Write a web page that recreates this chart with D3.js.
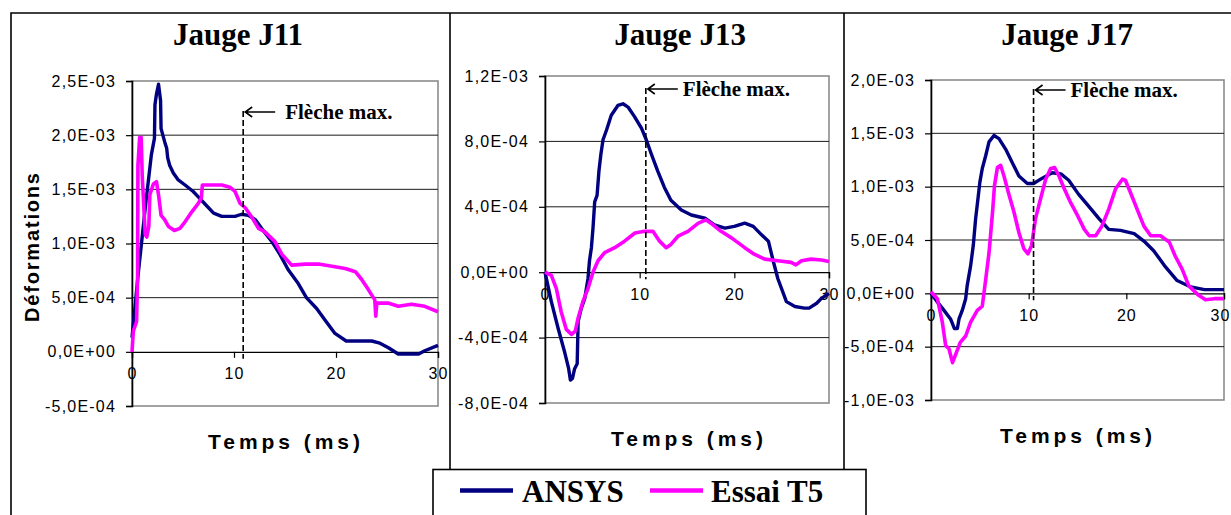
<!DOCTYPE html>
<html><head><meta charset="utf-8">
<script src="https://cdn.jsdelivr.net/npm/d3@7"></script>
<style>body{margin:0;background:#fff}svg{display:block}</style>
</head><body>
<svg id="c" width="1231" height="515"></svg>
<script>
// ---- data (strain values in units of 1e-3, time in ms) ----
const seriesNames = ["ANSYS", "Essai T5"];
const panelTitles = ["Jauge J11", "Jauge J13", "Jauge J17"];
const xTicks = [0, 10, 20, 30];
const j11YTicks = [-5e-4, 0, 5e-4, 1e-3, 1.5e-3, 2e-3, 2.5e-3];
const j13YTicks = [-8e-4, -4e-4, 0, 4e-4, 8e-4, 1.2e-3];
const j17YTicks = [-1e-3, -5e-4, 0, 5e-4, 1e-3, 1.5e-3, 2e-3];
const flecheMax = [10.9, 10.65, 10.5];

const j11Ansys = [[0,0.13],[0.6,0.71],[1.3,1.33],[1.9,1.82],[2.2,1.97],[2.25,2.28],[2.4,2.38],[2.6,2.47],[2.8,2.32],[2.85,2.06],[3.2,1.94],[3.4,1.88],[3.5,1.79],[3.7,1.72],[4.05,1.65],[4.5,1.59],[5.2,1.54],[6.0,1.48],[6.5,1.43],[7.2,1.36],[8.0,1.28],[8.8,1.25],[10.1,1.25],[10.75,1.27],[11.4,1.26],[12.1,1.22],[12.7,1.14],[13.7,1.02],[14.5,0.90],[15.3,0.76],[16.3,0.63],[17.1,0.50],[18.1,0.40],[19.1,0.27],[19.9,0.17],[21.0,0.10],[22.2,0.10],[23.5,0.10],[24.3,0.08],[25.1,0.04],[26.1,-0.02],[27.1,-0.02],[28.1,-0.02],[28.7,0.01],[30,0.06]];
const j11Essai = [[0,0],[0.13,0.19],[0.45,0.28],[0.55,0.71],[0.58,1.72],[0.75,1.98],[0.9,1.98],[1.0,1.63],[1.3,1.08],[1.45,1.06],[1.65,1.16],[1.75,1.45],[2.1,1.55],[2.4,1.57],[2.6,1.45],[2.85,1.26],[3.2,1.22],[3.55,1.16],[4.15,1.12],[4.7,1.14],[5.2,1.20],[5.85,1.29],[6.5,1.37],[6.8,1.42],[6.9,1.54],[7.8,1.54],[8.8,1.54],[9.6,1.52],[10.1,1.48],[10.6,1.37],[11.1,1.33],[11.7,1.25],[12.4,1.14],[13.0,1.11],[14.0,1.02],[14.7,0.90],[15.65,0.80],[17.0,0.81],[18.3,0.81],[19.6,0.79],[20.9,0.77],[21.9,0.74],[22.5,0.67],[23.2,0.57],[23.8,0.48],[23.9,0.33],[24.0,0.45],[25.1,0.45],[26.1,0.42],[27.4,0.44],[28.7,0.42],[30,0.37]];

const j13Ansys = [[0,0],[0.67,-0.18],[1.37,-0.34],[2.08,-0.49],[2.5,-0.59],[2.68,-0.66],[2.9,-0.65],[3.13,-0.59],[3.4,-0.56],[3.5,-0.30],[3.84,-0.22],[4.2,-0.16],[4.54,-0.04],[4.7,0.07],[4.9,0.15],[5.07,0.27],[5.25,0.43],[5.5,0.47],[5.7,0.62],[5.9,0.72],[6.13,0.81],[6.5,0.87],[7.0,0.96],[7.7,1.02],[8.24,1.03],[8.77,1.01],[9.47,0.95],[10.2,0.88],[10.7,0.81],[11.25,0.72],[11.9,0.62],[12.6,0.52],[13.3,0.44],[14.4,0.38],[15.45,0.35],[16.9,0.33],[17.9,0.29],[19.0,0.27],[20.0,0.28],[21.1,0.30],[22.0,0.28],[22.85,0.23],[23.6,0.19],[24.1,0.07],[24.6,-0.04],[25.5,-0.18],[26.4,-0.21],[27.4,-0.22],[27.9,-0.22],[28.7,-0.19],[29.2,-0.16],[30,-0.13]];
const j13Essai = [[0,0],[0.67,-0.02],[1.2,-0.10],[1.7,-0.24],[2.25,-0.35],[2.8,-0.38],[3.2,-0.36],[3.5,-0.28],[4.0,-0.18],[4.54,-0.10],[5.07,0],[5.6,0.07],[6.3,0.12],[7.36,0.15],[8.4,0.19],[9.5,0.24],[10.5,0.25],[11.4,0.25],[12.1,0.19],[12.8,0.15],[13.3,0.17],[14.05,0.22],[15.1,0.25],[16.2,0.30],[17.0,0.32],[17.75,0.29],[18.6,0.25],[19.7,0.21],[21.1,0.15],[22.1,0.11],[23.2,0.08],[24.6,0.07],[26.0,0.06],[26.5,0.045],[27.1,0.07],[28.1,0.08],[29.2,0.075],[30,0.065]];

const j17Ansys = [[0,0],[0.65,-0.08],[1.33,-0.16],[2.0,-0.24],[2.4,-0.33],[2.7,-0.33],[2.87,-0.24],[3.2,-0.16],[3.55,-0.05],[3.7,0.07],[4.06,0.26],[4.33,0.45],[4.57,0.70],[4.8,0.88],[5.0,1.04],[5.25,1.17],[5.6,1.29],[5.94,1.42],[6.45,1.48],[6.96,1.45],[7.65,1.35],[8.3,1.23],[9.0,1.10],[9.86,1.03],[10.5,1.03],[11.4,1.08],[12.4,1.13],[13.3,1.12],[14.1,1.06],[15.1,0.93],[16.2,0.81],[17.2,0.70],[18.2,0.60],[19.4,0.59],[20.8,0.56],[21.8,0.49],[22.8,0.40],[23.9,0.26],[25.2,0.12],[26.6,0.06],[28.0,0.035],[30,0.035]];
const j17Essai = [[0,0.015],[0.65,-0.05],[1.16,-0.27],[1.5,-0.49],[1.84,-0.52],[2.2,-0.65],[2.5,-0.58],[3.0,-0.46],[3.55,-0.40],[4.06,-0.27],[4.74,-0.16],[5.25,-0.12],[5.6,0.13],[5.94,0.38],[6.3,0.76],[6.5,1.01],[6.8,1.18],[7.13,1.20],[7.47,1.10],[8.0,0.92],[8.5,0.76],[9.0,0.57],[9.5,0.42],[9.93,0.37],[10.3,0.45],[10.7,0.70],[11.2,0.88],[11.74,1.07],[12.25,1.17],[12.66,1.18],[13.1,1.10],[13.6,0.99],[14.3,0.85],[15.0,0.73],[15.7,0.60],[16.2,0.54],[16.86,0.54],[17.5,0.63],[18.2,0.79],[18.9,0.98],[19.6,1.07],[19.9,1.06],[20.4,0.95],[21.1,0.79],[21.8,0.63],[22.5,0.54],[23.5,0.54],[24.4,0.48],[25.0,0.35],[25.7,0.23],[26.4,0.07],[27.3,-0.01],[28.1,-0.06],[29.0,-0.05],[30,-0.05]];

// ---- layout ----
const colors = ["#000080", "#ff00ff"];
const svg = d3.select("#c");

// panel borders
const border = svg.append("g").attr("fill", "none").attr("stroke", "#000").attr("stroke-width", 1.6);
border.append("path").attr("d", "M11,520 V13 H1240");
border.append("path").attr("d", "M450,13 V469");
border.append("path").attr("d", "M844,13 V520");

function fmtSci(v) {
  if (Math.abs(v) < 1e-12) return "0,0E+00";
  const [m, e] = v.toExponential(1).split("e");
  const en = parseInt(e, 10);
  return m.replace(".", ",") + "E" + (en < 0 ? "-" : "+") + String(Math.abs(en)).padStart(2, "0");
}

const panels = [
  {title: panelTitles[0], ansys: j11Ansys, essai: j11Essai, yTicks: j11YTicks, fleche: flecheMax[0],
   l:132, r:438, t:81, b:406, titleX:238, xlabX:284, xlabY:449, arrowY:112, textGap:10, lastShift:0},
  {title: panelTitles[1], ansys: j13Ansys, essai: j13Essai, yTicks: j13YTicks, fleche: flecheMax[1],
   l:545, r:829, t:76, b:403, titleX:680, xlabX:687, xlabY:446, arrowY:89, textGap:5, lastShift:0},
  {title: panelTitles[2], ansys: j17Ansys, essai: j17Essai, yTicks: j17YTicks, fleche: flecheMax[2],
   l:931, r:1224, t:80, b:400, titleX:1067, xlabX:1076, xlabY:443, arrowY:90, textGap:5, lastShift:-4}
];

panels.forEach(p => {
  const g = svg.append("g");
  const x = d3.scaleLinear().domain([0, 30]).range([p.l, p.r]);
  const y = d3.scaleLinear().domain(d3.extent(p.yTicks)).range([p.b, p.t]);

  // title
  g.append("text").attr("x", p.titleX).attr("y", 45).attr("text-anchor", "middle")
    .attr("font-family", "'Liberation Serif','Times New Roman',serif").attr("font-weight", "bold")
    .attr("font-size", 31).text(p.title);

  // plot frame
  g.append("rect").attr("x", p.l).attr("y", p.t).attr("width", p.r - p.l).attr("height", p.b - p.t)
    .attr("fill", "none").attr("stroke", "#8c8c8c").attr("stroke-width", 1.6);

  // gridlines
  g.append("g").selectAll("line").data(p.yTicks.filter(v => v !== 0 && v !== p.yTicks[0] && v !== p.yTicks[p.yTicks.length-1]))
    .join("line").attr("x1", p.l).attr("x2", p.r).attr("y1", d => y(d)).attr("y2", d => y(d))
    .attr("stroke", "#1a1a1a").attr("stroke-width", 1);

  // y axis
  const ya = g.append("g").attr("transform", `translate(${p.l},0)`)
    .call(d3.axisLeft(y).tickValues(p.yTicks).tickSize(6).tickPadding(10).tickFormat(fmtSci));
  ya.select(".domain").attr("stroke", "#000").attr("stroke-width", 1.6);
  ya.selectAll(".tick line").attr("stroke", "#000").attr("stroke-width", 1.2);
  ya.selectAll(".tick text").attr("font-family", "'Liberation Sans',Arial,sans-serif")
    .attr("font-size", 16).attr("fill", "#000").style("letter-spacing", "1.2px");

  // x axis at zero
  const xa = g.append("g").attr("transform", `translate(0,${y(0)})`)
    .call(d3.axisBottom(x).tickValues(xTicks).tickSize(6).tickPadding(10).tickFormat(d3.format("d")));
  xa.select(".domain").attr("stroke", "#000").attr("stroke-width", 1.3);
  xa.selectAll(".tick line").attr("stroke", "#000").attr("stroke-width", 1.2);
  xa.selectAll(".tick text").attr("font-family", "'Liberation Sans',Arial,sans-serif")
    .attr("font-size", 16).attr("fill", "#000").style("letter-spacing", "1px");
  xa.selectAll(".tick text").filter(d => d === 30).attr("dx", p.lastShift);

  // x label
  g.append("text").attr("x", p.xlabX - 76).attr("y", p.xlabY)
    .attr("font-family", "'Liberation Sans',Arial,sans-serif").attr("font-weight", "bold")
    .attr("font-size", 21).attr("textLength", 152).attr("lengthAdjust", "spacing").text("Temps (ms)");

  // data lines
  const line = d3.line().x(d => x(d[0])).y(d => y(d[1] * 1e-3));
  g.append("path").datum(p.ansys).attr("d", line).attr("fill", "none")
    .attr("stroke", colors[0]).attr("stroke-width", 3.4).attr("stroke-linejoin", "round");
  g.append("path").datum(p.essai).attr("d", line).attr("fill", "none")
    .attr("stroke", colors[1]).attr("stroke-width", 3.6).attr("stroke-linejoin", "round");

  // Flèche max. annotation
  const fx = x(p.fleche);
  g.append("line").attr("x1", fx).attr("x2", fx).attr("y1", p.arrowY - 1).attr("y2", y(0) + 7)
    .attr("stroke", "#000").attr("stroke-width", 1.6).attr("stroke-dasharray", "6,3");
  g.append("path").attr("d", `M${fx + 2},${p.arrowY} H${fx + 32} M${fx + 9},${p.arrowY - 5} L${fx + 2},${p.arrowY} L${fx + 9},${p.arrowY + 5}`)
    .attr("fill", "none").attr("stroke", "#000").attr("stroke-width", 1.6);
  g.append("text").attr("x", fx + 32 + p.textGap).attr("y", p.arrowY + 7)
    .attr("font-family", "'Liberation Serif','Times New Roman',serif").attr("font-weight", "bold")
    .attr("font-size", 21).text("Flèche max.");
});

// y-axis title (only first panel)
svg.append("text").attr("transform", "translate(39,247.5) rotate(-90)")
  .attr("x", -74.5).attr("font-family", "'Liberation Sans',Arial,sans-serif").attr("font-weight", "bold")
  .attr("font-size", 20).attr("textLength", 149).attr("lengthAdjust", "spacing").text("Déformations");

// legend
const lg = svg.append("g");
lg.append("rect").attr("x", 433).attr("y", 469.5).attr("width", 433).attr("height", 60)
  .attr("fill", "#fff").attr("stroke", "#000").attr("stroke-width", 1.6);
const legendItems = [{lx: 460, tx: 522}, {lx: 650, tx: 711}];
seriesNames.forEach((name, i) => {
  const it = legendItems[i];
  lg.append("line").attr("x1", it.lx).attr("x2", it.lx + 53).attr("y1", 490.5).attr("y2", 490.5)
    .attr("stroke", colors[i]).attr("stroke-width", 4.5);
  lg.append("text").attr("x", it.tx).attr("y", 502)
    .attr("font-family", "'Liberation Serif','Times New Roman',serif").attr("font-weight", "bold")
    .attr("font-size", 31).text(name);
});
</script>
</body></html>
